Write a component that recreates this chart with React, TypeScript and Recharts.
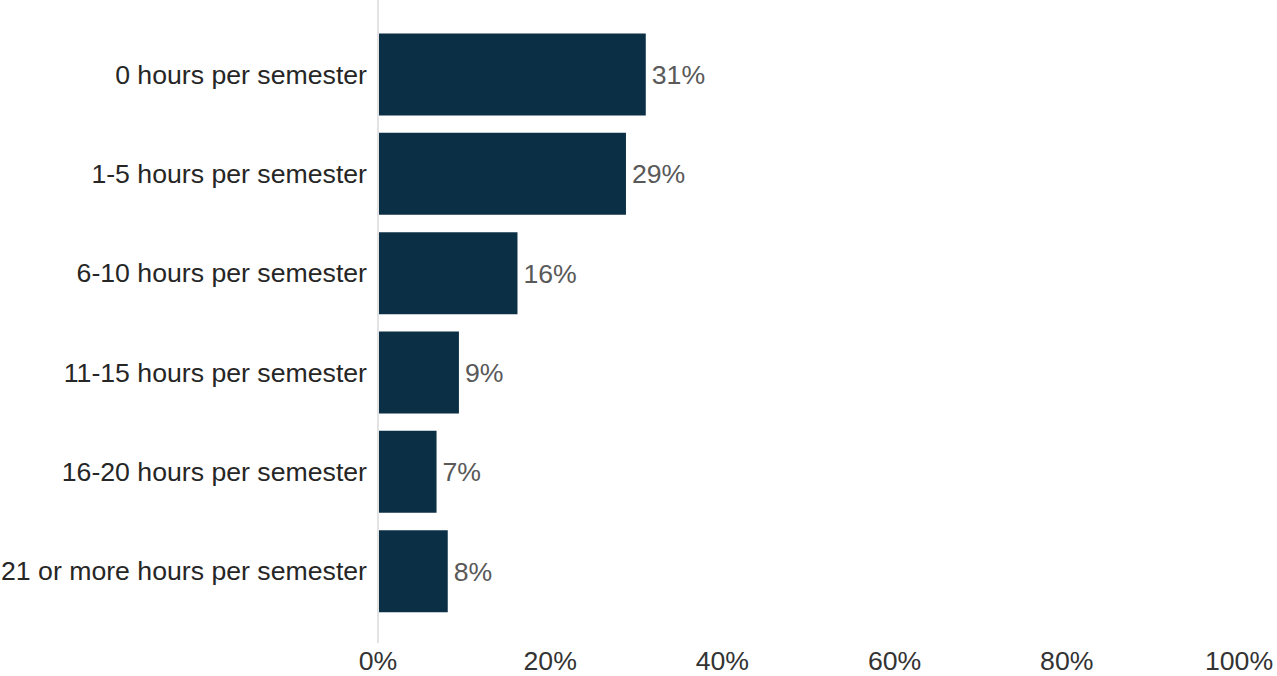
import React from 'react';
import { BarChart, Bar, XAxis, YAxis, LabelList } from 'recharts';

const categories = [
  '0 hours per semester',
  '1-5 hours per semester',
  '6-10 hours per semester',
  '11-15 hours per semester',
  '16-20 hours per semester',
  '21 or more hours per semester',
];
const shares = [31.1, 28.8, 16.2, 9.4, 6.8, 8.1];
const xTicks = [0, 20, 40, 60, 80, 100];

const data = categories.map((c, i) => ({ category: c, share: shares[i] }));

const FONT = 'Arial, "Liberation Sans", sans-serif';

export default function App() {
  return (
    <div style={{ position: 'absolute', left: 0, top: 0, width: 1277, height: 676, background: '#fff' }}>
      <BarChart
        width={1277}
        height={676}
        data={data}
        layout="vertical"
        margin={{ top: 0, right: 38, bottom: 0, left: 0 }}
      >
        <XAxis
          type="number"
          dataKey="share"
          domain={[0, 100]}
          ticks={xTicks}
          tickFormatter={(v: number) => `${v}%`}
          axisLine={false}
          tickLine={false}
          tickSize={0}
          tickMargin={8}
          height={33}
          interval={0}
          tick={{ fill: '#333333', fontSize: 26.67, fontFamily: FONT }}
        />
        <YAxis
          type="category"
          dataKey="category"
          width={378}
          axisLine={{ stroke: '#e3e3e3', strokeWidth: 2 }}
          tickLine={false}
          tickSize={0}
          tickMargin={11}
          interval={0}
          padding={{ top: 24.5, bottom: 22.5 }}
          tick={{ fill: '#262626', fontSize: 26.67, fontFamily: FONT }}
        />
        <Bar dataKey="share" fill="#0b2f45" barSize={82} isAnimationActive={false}>
          <LabelList
            dataKey="share"
            position="right"
            offset={6}
            formatter={(v: number) => `${Math.round(v)}%`}
            style={{ fill: '#595959', fontSize: 26.67, fontFamily: FONT }}
          />
        </Bar>
      </BarChart>
    </div>
  );
}
